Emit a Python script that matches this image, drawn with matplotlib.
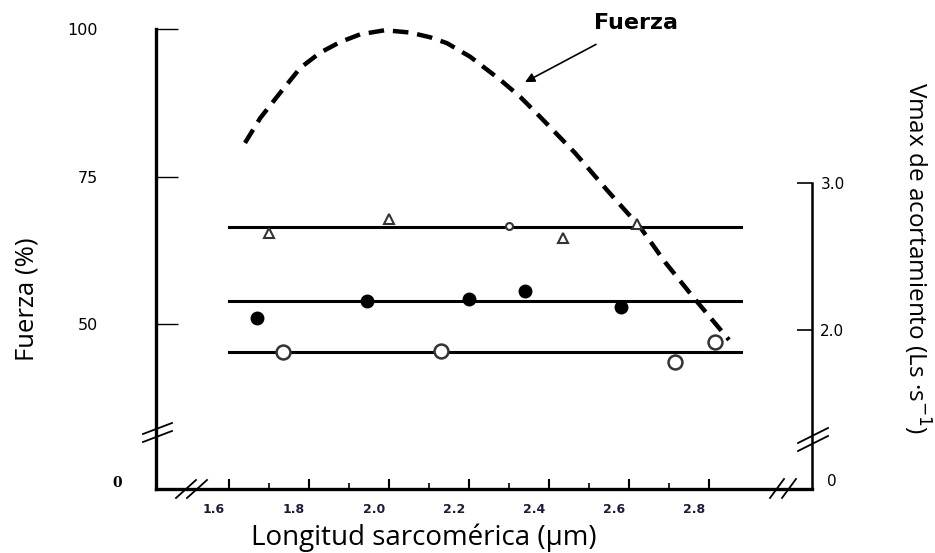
import numpy as np
import matplotlib.pyplot as plt
from matplotlib.lines import Line2D
from matplotlib.transforms import ScaledTranslation

plt.rcParams['font.family'] = ['Open Sans', 'DejaVu Sans']

# curva de fuerza (%), eje izquierdo
fuerza_x = [1.64, 1.678, 1.728, 1.778, 1.828, 1.878, 1.928, 1.99, 2.053, 2.103, 2.145,
            2.203, 2.278, 2.328, 2.378, 2.465, 2.545, 2.628, 2.69, 2.76, 2.813, 2.85]
fuerza_y = [80.7, 84.9, 89.2, 93.4, 96.0, 97.8, 99.1, 99.8, 99.4, 98.6, 97.6,
            95.3, 91.4, 88.5, 85.1, 79.0, 72.7, 66.4, 60.5, 54.6, 50.3, 47.3]

# Vmax (Ls/s), eje derecho
niveles = [2.70, 2.20, 1.85]
nivel_x = [1.60, 2.88]

tri_x = [1.70, 2.00, 2.435, 2.62]
tri_y = [2.66, 2.755, 2.626, 2.72]
punto_x = [2.30]
punto_y = [2.71]
lleno_x = [1.67, 1.945, 2.20, 2.34, 2.58]
lleno_y = [2.08, 2.197, 2.21, 2.265, 2.156]
vacio_x = [1.735, 2.13, 2.715, 2.815]
vacio_y = [1.85, 1.857, 1.78, 1.918]

x_mayor = [1.6, 1.8, 2.0, 2.2, 2.4, 2.6, 2.8]
x_menor = [1.7, 1.9, 2.1, 2.3, 2.5, 2.7]
x_etiq = ['1.6', '1.8', '2.0', '2.2', '2.4', '2.6', '2.8']

W, H = 935, 553
fig = plt.figure(figsize=(W / 100, H / 100), dpi=100)
ax = fig.add_axes([156 / W, 1 - 489 / H, 656 / W, 469 / H])
ax2 = ax.twinx()

ax.set_xlim(1.4175, 3.0575)
ax.set_ylim(22.03, 101.53)
ax2.set_ylim(0.918, 4.109)

# fuerza
ax.plot(fuerza_x, fuerza_y, color='black', lw=3.2, ls=(0, (3.5, 2)), dash_capstyle='butt')

# Vmax
for v in niveles:
    ax2.plot(nivel_x, [v, v], color='black', lw=2.2)
ax2.plot(tri_x, tri_y, ls='none', marker='^', ms=7, mfc='white', mec='#333333', mew=1.5)
ax2.plot(punto_x, punto_y, ls='none', marker='o', ms=5, mfc='white', mec='#333333', mew=1.5)
ax2.plot(lleno_x, lleno_y, ls='none', marker='o', ms=9, mfc='black', mec='black')
ax2.plot(vacio_x, vacio_y, ls='none', marker='o', ms=10, mfc='white', mec='#333333', mew=1.8)

# ejes
for a in (ax, ax2):
    a.spines['top'].set_visible(False)
ax.spines['right'].set_visible(False)
ax2.spines['left'].set_visible(False)
ax2.spines['bottom'].set_visible(False)
ax.spines['left'].set_linewidth(2.4)
ax.spines['bottom'].set_linewidth(2.4)
ax2.spines['right'].set_linewidth(1.8)
ax.spines['left'].set_bounds(22.03, 100)
ax2.spines['right'].set_bounds(0.918, 3.0)

ax.set_yticks([50, 75, 100])
ax.set_yticklabels(['50', '75', '100'], fontsize=11.5, family='DejaVu Sans')
ax.tick_params(axis='y', direction='in', length=16, width=1, pad=42)
ax2.set_yticks([2.0, 3.0])
ax2.set_yticklabels(['2.0', '3.0'], fontsize=11, family='DejaVu Sans')
ax2.tick_params(axis='y', direction='in', length=11, width=1.2, pad=6)

ax.set_xticks(x_mayor)
ax.set_xticklabels(x_etiq, fontsize=9, fontweight='bold', color='#1c1c3a', family='DejaVu Sans')
ax.set_xticks(x_menor, minor=True)
ax.tick_params(axis='x', which='major', direction='in', length=7, width=1.5, pad=10)
ax.tick_params(axis='x', which='minor', direction='in', length=4, width=1.2)
for lab in ax.get_xticklabels():
    lab.set_transform(lab.get_transform() + ScaledTranslation(-0.15, 0, fig.dpi_scale_trans))

# ceros del eje roto
fig.text(117 / W, 1 - 483 / H, '0', family='DejaVu Serif', fontweight='bold', fontsize=10,
         ha='center', va='center')
fig.text(832 / W, 1 - 481 / H, '0', fontsize=11, ha='center', va='center', family='DejaVu Sans')

# marcas de corte
def corte(p1, p2, sep):
    for k in (0, 1):
        xs = [(p1[0] + k * sep[0]) / W, (p2[0] + k * sep[0]) / W]
        ys = [1 - (p1[1] + k * sep[1]) / H, 1 - (p2[1] + k * sep[1]) / H]
        fig.add_artist(Line2D(xs, ys, color='black', lw=1.3))

corte((143, 434), (172, 423), (0, 8))
corte((176, 498), (196, 480), (11, 0))
corte((770, 498), (784, 479), (12, 0))
corte((798, 443), (828, 428), (0, 8))

# anotacion
ax.annotate('Fuerza', xy=(2.34, 91.0), xytext=(2.6175, 101.0), fontsize=16, fontweight='bold',
            family='DejaVu Sans', ha='center', va='center',
            arrowprops=dict(arrowstyle='-|>', color='black', lw=1.2, shrinkA=13, shrinkB=0,
                            mutation_scale=14))

fig.text(27 / W, 1 - 299 / H, 'Fuerza (%)', rotation=90, fontsize=18.5, ha='center', va='center')
fig.text(917 / W, 1 - 258 / H, 'Vmax de acortamiento (Ls ·s$^{-1}$)', rotation=270,
         fontsize=17.5, ha='center', va='center')
fig.text(424 / W, 1 - 538 / H, 'Longitud sarcomérica (µm)', fontsize=20, ha='center',
         va='center')

plt.savefig('out.png', dpi=100)
